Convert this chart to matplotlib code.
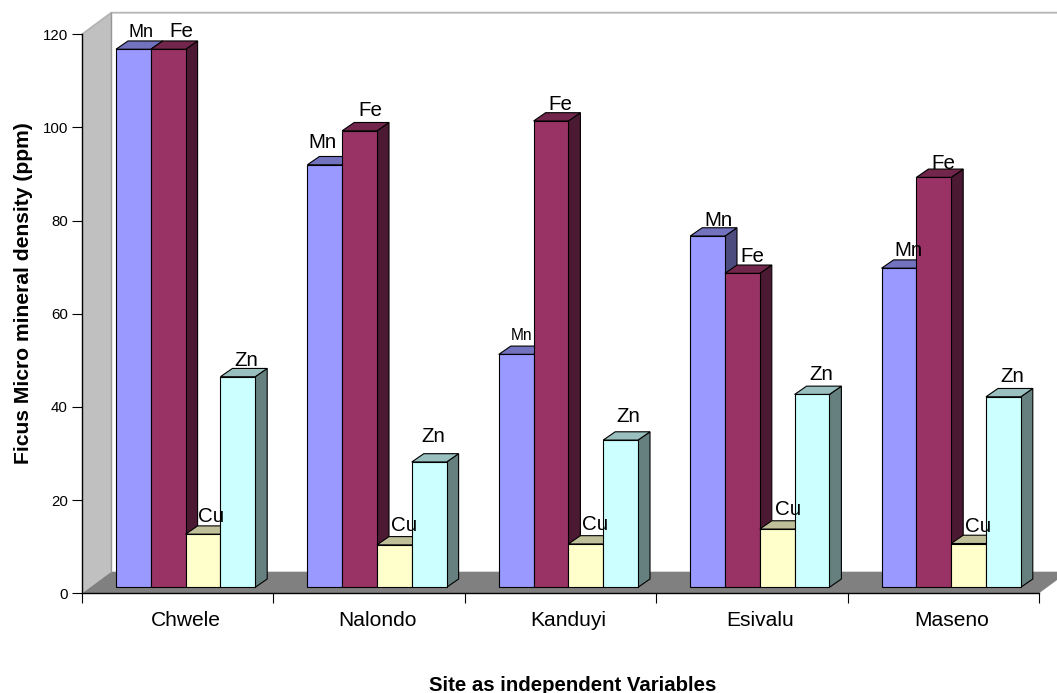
import matplotlib
matplotlib.use("Agg")
import matplotlib.pyplot as plt
from matplotlib.patches import Polygon

plt.rcParams["font.family"] = ["Liberation Sans", "DejaVu Sans"]

# Mineral readings by site (ppm)
sites = ["Chwele", "Nalondo", "Kanduyi", "Esivalu", "Maseno"]
minerals = ["Mn", "Fe", "Cu", "Zn"]
mn = [115.5, 90.7, 50.0, 75.4, 68.5]
fe = [115.5, 98.0, 100.1, 67.4, 88.0]
cu = [11.4, 9.1, 9.3, 12.5, 9.4]
zn = [45.2, 26.9, 31.6, 41.4, 40.9]
series = [mn, fe, cu, zn]

# Face colours per mineral: front, top, side
faces = {
    "Mn": ("#9999FF", "#7272BF", "#4C4C7F"),
    "Fe": ("#993366", "#72264C", "#4C1933"),
    "Cu": ("#FFFFCC", "#BFBF99", "#7F7F66"),
    "Zn": ("#CCFFFF", "#99BFBF", "#668080"),
}

# Label offsets from the front-top centre of each bar, in pixels
label_dx = [[7.6, -2, 5.8, 10.4, 9], [12.8, 10.4, 9, 9.6, 9.2],
            [8, 9.6, 9.2, 10.8, 9.4], [8.2, 3.8, 7.4, 9, 8.6]]
label_dy = [[16.3, 22, 18.5, 16, 18], [17.3, 20, 17, 17, 13.5],
            [17.8, 19, 19, 20, 17], [16, 25, 24, 19.5, 20]]
label_px = [[18, 20.5, 15.5, 20.5, 20.5], [20.5] * 5, [20.5] * 5, [20.5] * 5]

W, H = 1057, 693
X0, X1, Y0, Y120 = 82.0, 1039.0, 593.3, 34.3
px_x = (X1 - X0) / 5          # pixels per category
px_y = (Y0 - Y120) / 120      # pixels per ppm

fig = plt.figure(figsize=(W / 100, H / 100), dpi=100, facecolor="white")
ax = fig.add_axes([X0 / W, 1 - Y0 / H, (X1 - X0) / W, (Y0 - Y120) / H])
ax.set_xlim(0, 5)
ax.set_ylim(0, 120)
ax.patch.set_alpha(0)

# Projection offsets, expressed in data units
wall_dx, wall_dy = 29.3 / px_x, 21.6 / px_y
bar_dx, bar_dy = 12.0 / px_x, 8.3 / px_y
bar_w = 34.8 / px_x
bar_start = 34.0 / px_x
bar_floor = 6.0 / px_y

# Back wall, side wall and floor
top_y = 120
ax.add_patch(Polygon([(0, 0), (wall_dx, wall_dy), (wall_dx, top_y + wall_dy), (0, top_y)],
                     closed=True, fc="#C0C0C0", ec="none", clip_on=False, zorder=0.5))
ax.add_patch(Polygon([(0, 0), (wall_dx, wall_dy), (5 + wall_dx, wall_dy), (5, 0)],
                     closed=True, fc="#808080", ec="none", clip_on=False, zorder=0.6))
ax.plot([0, wall_dx, 5 + wall_dx], [top_y, top_y + wall_dy, top_y + wall_dy],
        color="#B4B4B4", lw=1.3, clip_on=False, zorder=0.7)
ax.plot([wall_dx, wall_dx], [wall_dy, top_y + wall_dy],
        color="#969696", lw=1.0, clip_on=False, zorder=0.7)

# Bars, left to right so each front face covers its neighbour's side
EDGE = 0.8
z = 2.0
for i in range(len(sites)):
    for j, name in enumerate(minerals):
        front, top, side = faces[name]
        left = i + bar_start + j * bar_w
        value = series[j][i]
        y_top = value + bar_floor
        right = left + bar_w
        ax.add_patch(Polygon([(right, bar_floor), (right + bar_dx, bar_floor + bar_dy),
                              (right + bar_dx, y_top + bar_dy), (right, y_top)],
                             closed=True, fc=side, ec="black", lw=EDGE, zorder=z, clip_on=False))
        ax.add_patch(Polygon([(left, y_top), (left + bar_dx, y_top + bar_dy),
                              (right + bar_dx, y_top + bar_dy), (right, y_top)],
                             closed=True, fc=top, ec="black", lw=EDGE, zorder=z, clip_on=False))
        ax.bar(left, value, width=bar_w, bottom=bar_floor, align="edge", color=front,
               edgecolor="black", linewidth=EDGE, zorder=z + 0.1, clip_on=False)
        z += 0.2

# Mineral name above every bar
for j, name in enumerate(minerals):
    for i in range(len(sites)):
        cx = i + bar_start + (j + 0.5) * bar_w
        ax.annotate(name, xy=(cx, series[j][i] + bar_floor),
                    xytext=(label_dx[j][i] * 0.72, label_dy[j][i] * 0.72),
                    textcoords="offset points", ha="center", va="center",
                    fontsize=label_px[j][i] * 0.72, color="black", zorder=50,
                    annotation_clip=False)

# Axes
for s in ("top", "right"):
    ax.spines[s].set_visible(False)
for s in ("left", "bottom"):
    ax.spines[s].set_linewidth(1.0)
    ax.spines[s].set_zorder(40)
ax.set_yticks(range(0, 121, 20))
ax.tick_params(axis="y", length=7.2, width=0.8, pad=3, labelsize=10.8)
ax.set_xticks(range(0, 6))
ax.set_xticklabels([])
ax.tick_params(axis="x", which="major", length=7.2, width=0.8)
ax.set_xticks([i + 0.5 + 8.0 / px_x for i in range(5)], minor=True)
ax.set_xticklabels(sites, minor=True, fontsize=15.1)
ax.tick_params(axis="x", which="minor", length=0, pad=12.5)

fig.text(572.5 / W, 1 - 685.5 / H, "Site as independent Variables", ha="center", va="center",
         fontsize=14.7, fontweight="bold")
fig.text(24 / W, 1 - 293 / H, "Ficus Micro mineral density (ppm)", ha="center", va="center",
         rotation=90, fontsize=15.2, fontweight="bold")

fig.savefig("out.png", dpi=100)
